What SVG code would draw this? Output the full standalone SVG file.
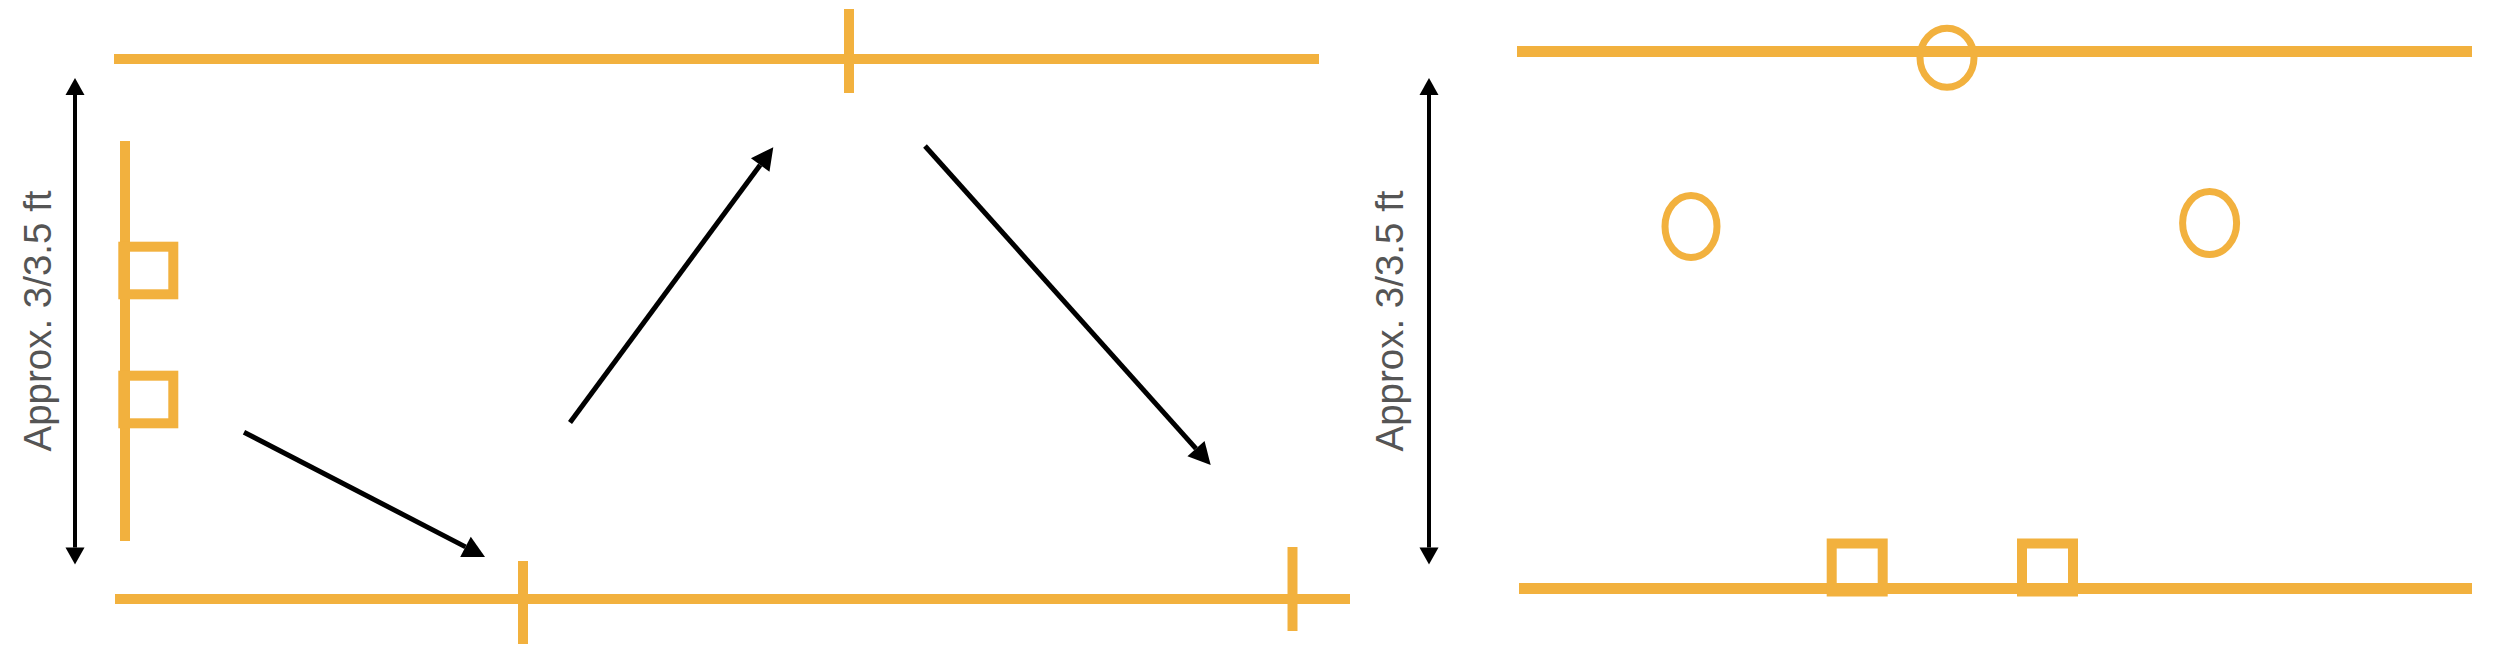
<svg xmlns="http://www.w3.org/2000/svg" width="2500" height="669" viewBox="0 0 2500 669">
<style>
.o{stroke:#F2B13E;fill:none}
.ln{stroke-width:10}
.sq{stroke-width:10;fill:none;stroke:#F2B13E}
.el{stroke-width:7;fill:none;stroke:#F2B13E}
.arr{stroke:#000;stroke-width:5;fill:none;marker-end:url(#ah)}
.dim{stroke:#000;stroke-width:4;fill:none;marker-start:url(#dh);marker-end:url(#dh)}
.lbl{font-family:"Liberation Sans",Arial,sans-serif;font-size:38.5px;fill:#555555;text-anchor:middle}
</style>
<defs>
<marker id="ah" markerUnits="userSpaceOnUse" markerWidth="24" markerHeight="24" refX="0" refY="11.5" orient="auto" overflow="visible">
<path d="M0,0 L22,11.5 L0,23 z" fill="#000"/>
</marker>
<marker id="dh" markerUnits="userSpaceOnUse" markerWidth="20" markerHeight="20" refX="0" refY="9.5" orient="auto-start-reverse" overflow="visible">
<path d="M0,0 L17,9.5 L0,19 z" fill="#000"/>
</marker>
</defs>
<rect width="2500" height="669" fill="#fff"/>
<g id="left-panel">
<g id="left-top-line"><line class="o ln" x1="114" y1="59" x2="1319" y2="59"/><line class="o ln" x1="849" y1="9" x2="849" y2="93"/></g>
<g id="left-bottom-line"><line class="o ln" x1="115" y1="599" x2="1350" y2="599"/><line class="o ln" x1="523" y1="561" x2="523" y2="644"/><line class="o ln" x1="1292.5" y1="547" x2="1292.5" y2="631"/></g>
<g id="left-side-line"><line class="o ln" x1="125" y1="141" x2="125" y2="541"/></g>
<g id="left-square-1"><rect class="sq" x="123.3" y="246.7" width="50" height="47.6"/></g>
<g id="left-square-2"><rect class="sq" x="123.3" y="375.7" width="50" height="47.6"/></g>
<g id="left-dimension"><line class="dim" x1="75" y1="95" x2="75" y2="547.5"/><text class="lbl" transform="translate(50.7,321) rotate(-90)">Approx. 3/3.5 ft</text></g>
</g>
<g id="connectors">
<line class="arr" x1="244" y1="432.2" x2="465.5" y2="546.9"/>
<line class="arr" x1="570" y1="422.4" x2="760.2" y2="165"/>
<line class="arr" x1="925" y1="146" x2="1196" y2="448.6"/>
</g>
<g id="right-panel">
<g id="right-top-line"><line class="o" stroke-width="11" x1="1517" y1="51.5" x2="2472" y2="51.5"/></g>
<g id="right-bottom-line"><line class="o" stroke-width="11" x1="1519" y1="588.5" x2="2472" y2="588.5"/></g>
<g id="right-ellipse-top"><ellipse class="el" cx="1947" cy="57.7" rx="27" ry="29.5"/></g>
<g id="right-ellipse-left"><ellipse class="el" cx="1691" cy="226.5" rx="26" ry="31"/></g>
<g id="right-ellipse-right"><ellipse class="el" cx="2209.6" cy="223" rx="27" ry="31.5"/></g>
<g id="right-square-1"><rect class="sq" x="1831.7" y="543.5" width="51" height="48"/></g>
<g id="right-square-2"><rect class="sq" x="2022" y="543.5" width="51" height="48"/></g>
<g id="right-dimension"><line class="dim" x1="1429" y1="95" x2="1429" y2="547.5"/><text class="lbl" transform="translate(1402.7,321) rotate(-90)">Approx. 3/3.5 ft</text></g>
</g>
</svg>
